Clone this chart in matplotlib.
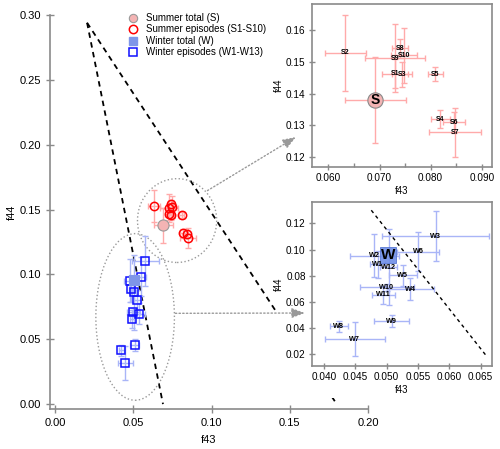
import numpy as np
import matplotlib
matplotlib.use("Agg")
import matplotlib.pyplot as plt
from matplotlib.patches import Ellipse, Rectangle
from matplotlib.lines import Line2D

plt.rcParams['font.family'] = ['Liberation Sans', 'DejaVu Sans']

# Summer episodes S1-S10: f43, f44 and their errors
s_labels = ['S1', 'S2', 'S3', 'S4', 'S5', 'S6', 'S7', 'S8', 'S9', 'S10']
s_f43 = [0.0730, 0.0633, 0.0744, 0.0819, 0.0809, 0.0846, 0.0848, 0.0740, 0.0730, 0.0748]
s_f44 = [0.1462, 0.1527, 0.1460, 0.1320, 0.1460, 0.1310, 0.1279, 0.1542, 0.1511, 0.1519]
s_f43_err = [0.0025, 0.0040, 0.0019, 0.0018, 0.0015, 0.0021, 0.0051, 0.0015, 0.0058, 0.0026]
s_f44_err = [0.0045, 0.0120, 0.0040, 0.0029, 0.0022, 0.0032, 0.0077, 0.0030, 0.0107, 0.0085]

# Summer total
s_tot = (0.0692, 0.1380)
s_tot_err = (0.0060, 0.0135)

# Winter episodes W1-W13
w_labels = ['W1', 'W2', 'W3', 'W4', 'W5', 'W6', 'W7', 'W8', 'W9', 'W10', 'W11', 'W12']
w_f43 = [0.0486, 0.0480, 0.0578, 0.0538, 0.0526, 0.0550, 0.0449, 0.0424, 0.0508, 0.0500, 0.0495, 0.0503]
w_f44 = [0.0886, 0.0953, 0.1103, 0.0697, 0.0802, 0.0983, 0.0315, 0.0414, 0.0454, 0.0710, 0.0654, 0.0863]
w_f43_err = [0.0012, 0.0039, 0.0085, 0.0038, 0.0022, 0.0033, 0.0048, 0.0014, 0.0028, 0.0043, 0.0019, 0.0013]
w_f44_err = [0.0100, 0.0166, 0.0190, 0.0083, 0.0077, 0.0150, 0.0130, 0.0042, 0.0045, 0.0030, 0.0070, 0.0290]

# Winter total
w_tot = (0.0502, 0.0955)
w_tot_err = (0.0010, 0.0040)

# triangle lines (apex, left end, right end)
tri_apex = (0.0205, 0.294)
tri_left = (0.069, 0.0)
tri_right = (0.180, 0.0)

red_err = '#ffaaaa'
blue_err = '#a9b5f7'
spine_gray = '#8a8a8a'

fig = plt.figure(figsize=(5, 4.49), dpi=100)

# ---------------- main plot ----------------
ax = fig.add_axes([0.1, 0.089, 0.636, 0.8776])
ax.set_xlim(-0.0032, 0.20)
ax.set_ylim(-0.0038, 0.30)
for s in ['top', 'right']:
    ax.spines[s].set_visible(False)
for s in ['left', 'bottom']:
    ax.spines[s].set_color(spine_gray)
    ax.spines[s].set_linewidth(1.2)
ax.set_xticks([0, 0.05, 0.10, 0.15, 0.20])
ax.set_yticks([0, 0.05, 0.10, 0.15, 0.20, 0.25, 0.30])
ax.xaxis.set_major_formatter(lambda v, p: f"{v:.2f}")
ax.yaxis.set_major_formatter(lambda v, p: f"{v:.2f}")
ax.tick_params(direction='inout', length=6, width=1, color=spine_gray, labelsize=8)
ax.set_xlabel('f43', fontsize=8, labelpad=5)
ax.set_ylabel('f44', fontsize=8, labelpad=2)

# triangle
ax.plot([tri_apex[0], tri_left[0]], [tri_apex[1], tri_left[1]], color='black',
        ls=(0, (3, 2.5)), lw=1.3, zorder=2)
ax.plot([tri_apex[0], tri_right[0]], [tri_apex[1], tri_right[1]], color='black',
        ls=(0, (3, 2.5)), lw=1.3, zorder=2)

# summer
ax.errorbar(s_f43, s_f44, xerr=s_f43_err, yerr=s_f44_err, fmt='none',
            ecolor=red_err, elinewidth=1, capsize=2, zorder=3)
ax.errorbar([s_tot[0]], [s_tot[1]], xerr=[s_tot_err[0]], yerr=[s_tot_err[1]], fmt='none',
            ecolor=red_err, elinewidth=1, capsize=2, zorder=3)
ax.plot(s_f43, s_f44, 'o', ms=6, mfc='none', mec='#ff0000', mew=1.1, zorder=4)
ax.plot([s_tot[0]], [s_tot[1]], 'o', ms=8, mfc='#f4b4b4', mec='#999999', mew=0.8, zorder=4)

# winter
ax.errorbar(w_f43, w_f44, xerr=w_f43_err, yerr=w_f44_err, fmt='none',
            ecolor=blue_err, elinewidth=1, capsize=2, zorder=3)
ax.plot(w_f43, w_f44, 's', ms=6, mfc='none', mec='#1010ff', mew=1.1, zorder=4)
ax.plot([w_tot[0]], [w_tot[1]], 's', ms=7, mfc='#7f96e8', mec='#7f96e8', mew=0.8, zorder=4)

# ellipses around the two groups
ax.add_patch(Ellipse((0.078, 0.1415), 0.0506, 0.0646, fill=False, ec='#999999', ls=':', lw=1, zorder=2))
ax.add_patch(Ellipse((0.0512, 0.0672), 0.0502, 0.1285, fill=False, ec='#999999', ls=':', lw=1, zorder=2))

# white panel behind lower inset
ax.add_patch(Rectangle((0.552, 0.1136), 0.448, 0.441, transform=fig.transFigure,
                       fc='white', ec='none', zorder=3.5, clip_on=False))

handles = [
    Line2D([], [], ls='none', marker='o', ms=6, mfc='#f4b4b4', mec='#999999', mew=0.8),
    Line2D([], [], ls='none', marker='o', ms=6, mfc='none', mec='#ff0000', mew=1.1),
    Line2D([], [], ls='none', marker='s', ms=6, mfc='#7f96e8', mec='#7f96e8'),
    Line2D([], [], ls='none', marker='s', ms=6, mfc='none', mec='#1010ff', mew=1.1),
]
ax.legend(handles, ['Summer total (S)', 'Summer episodes (S1-S10)', 'Winter total (W)',
                    'Winter episodes (W1-W13)'],
          loc='upper left', bbox_to_anchor=(0.256, 0.971), bbox_transform=fig.transFigure,
          frameon=False, fontsize=7, handlelength=1, handletextpad=0.8, labelspacing=0.15,
          borderpad=0, borderaxespad=0)

# ---------------- upper inset (summer) ----------------
ax1 = fig.add_axes([0.624, 0.628, 0.36, 0.363])
ax1.set_xlim(0.0568, 0.092)
ax1.set_ylim(0.117, 0.168)
ax1.errorbar(s_f43, s_f44, xerr=s_f43_err, yerr=s_f44_err, fmt='none',
             ecolor=red_err, elinewidth=1, capsize=2)
ax1.errorbar([s_tot[0]], [s_tot[1]], xerr=[s_tot_err[0]], yerr=[s_tot_err[1]], fmt='none',
             ecolor=red_err, elinewidth=1, capsize=2)
for lab, x, y in zip(s_labels, s_f43, s_f44):
    ax1.text(x, y, lab, fontsize=5, fontweight='bold', ha='center', va='center')
ax1.plot([s_tot[0]], [s_tot[1]], 'o', ms=11, mfc='#f4b4b4', mec='#888888', mew=0.8)
ax1.text(s_tot[0], s_tot[1], 'S', fontsize=10, fontweight='bold', ha='center', va='center')
ax1.set_xticks([0.06, 0.07, 0.08, 0.09])
ax1.set_xticks([0.065, 0.075, 0.085], minor=True)
ax1.set_yticks([0.12, 0.13, 0.14, 0.15, 0.16])
ax1.xaxis.set_major_formatter(lambda v, p: f"{v:.3f}")
ax1.yaxis.set_major_formatter(lambda v, p: f"{v:.2f}")
ax1.set_xlabel('f43', fontsize=7, labelpad=2)
ax1.set_ylabel('f44', fontsize=7, labelpad=2)

# ---------------- lower inset (winter) ----------------
ax2 = fig.add_axes([0.624, 0.185, 0.36, 0.366])
ax2.set_xlim(0.0381, 0.0668)
ax2.set_ylim(0.0111, 0.1366)
ax2.errorbar(w_f43, w_f44, xerr=w_f43_err, yerr=w_f44_err, fmt='none',
             ecolor=blue_err, elinewidth=1, capsize=2)
for lab, x, y in zip(w_labels, w_f43, w_f44):
    ax2.text(x, y, lab, fontsize=5.2, fontweight='bold', ha='center', va='center')
ax2.plot([w_tot[0]], [w_tot[1]], 's', ms=11, mfc='#6f8ee6', mec='#5070d0', mew=0.6, alpha=0.9)
ax2.text(w_tot[0], w_tot[1], 'W', fontsize=11, fontweight='bold', ha='center', va='center')
# part of the left triangle line
seg_y = np.array([0.130, 0.019])
seg_x = tri_apex[0] + (tri_apex[1] - seg_y) / (tri_apex[1] - tri_left[1]) * (tri_left[0] - tri_apex[0])
ax2.plot(seg_x, seg_y, color='black', ls=(0, (2.5, 2.5)), lw=1)
ax2.set_xticks([0.040, 0.045, 0.050, 0.055, 0.060, 0.065])
ax2.set_yticks([0.02, 0.04, 0.06, 0.08, 0.10, 0.12])
ax2.xaxis.set_major_formatter(lambda v, p: f"{v:.3f}")
ax2.yaxis.set_major_formatter(lambda v, p: f"{v:.2f}")
ax2.set_xlabel('f43', fontsize=7, labelpad=2)
ax2.set_ylabel('f44', fontsize=7, labelpad=2)

for a in (ax1, ax2):
    for s in a.spines.values():
        s.set_color(spine_gray)
        s.set_linewidth(1.2)
    a.tick_params(which='major', direction='inout', length=5, width=1, color=spine_gray, labelsize=7.2, pad=2)
    a.tick_params(which='minor', direction='in', length=3, width=1, color=spine_gray)

# connectors from ellipses to insets
ax.annotate('', xy=(-0.089, 0.184), xycoords=ax1.transAxes, xytext=(0.0974, 0.1646),
            textcoords='data', annotation_clip=False, zorder=6,
            arrowprops=dict(arrowstyle='-|>,head_length=0.8,head_width=0.3', color='#999999',
                            ls=':', lw=1, shrinkA=0, shrinkB=0))
ax.annotate('', xy=(-0.039, 0.322), xycoords=ax2.transAxes, xytext=(0.0769, 0.070),
            textcoords='data', annotation_clip=False, zorder=6,
            arrowprops=dict(arrowstyle='-|>,head_length=0.8,head_width=0.3', color='#999999',
                            ls=':', lw=1, shrinkA=0, shrinkB=0))

plt.savefig('out.png', dpi=100)
